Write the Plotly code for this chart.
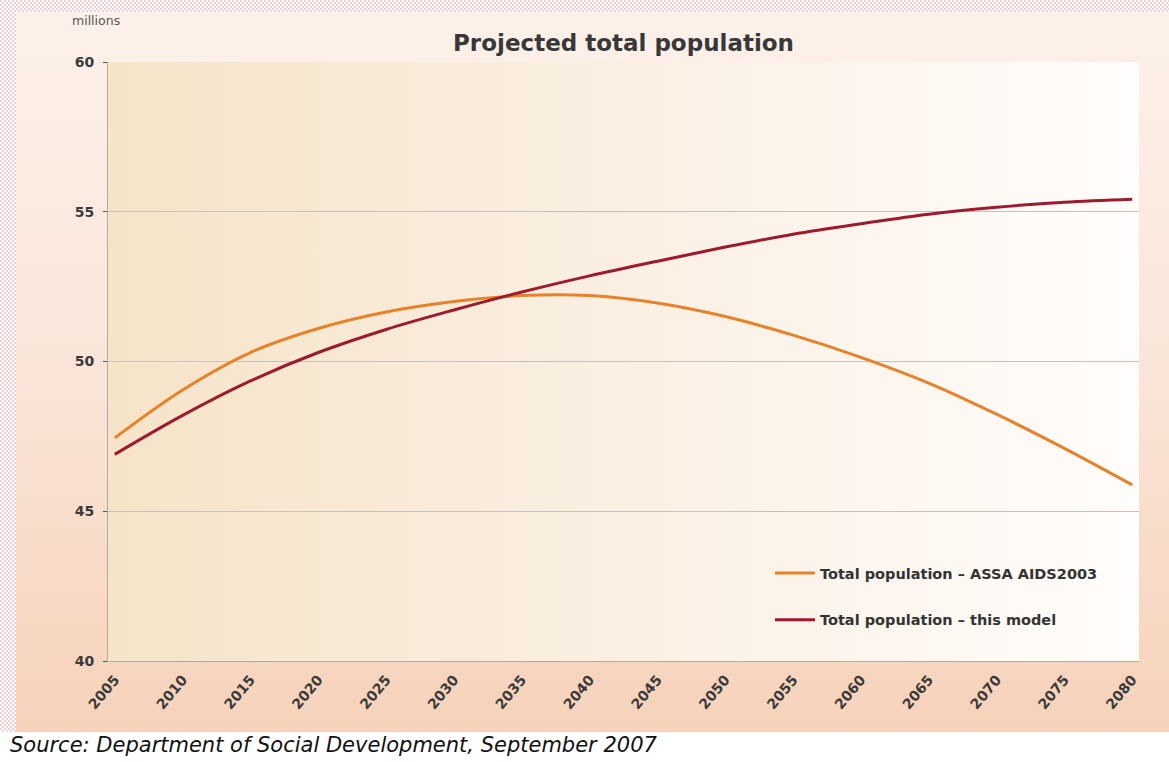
import base64
import plotly.graph_objects as go

# ---------------- data ----------------
years = [2005, 2010, 2015, 2020, 2025, 2030, 2035, 2040, 2045, 2050,
         2055, 2060, 2065, 2070, 2075, 2080]
assa_aids2003 = [47.45, 49.05, 50.3, 51.1, 51.65, 52.0, 52.2, 52.2, 51.95, 51.5,
                 50.88, 50.14, 49.28, 48.24, 47.1, 45.88]
this_model = [46.9, 48.2, 49.35, 50.3, 51.07, 51.72, 52.32, 52.86, 53.35, 53.82,
              54.25, 54.6, 54.92, 55.15, 55.32, 55.42]
series_names = ["Total population \u2013 ASSA AIDS2003", "Total population \u2013 this model"]
x_ticks = list(range(2005, 2081, 5))
y_ticks = [40, 45, 50, 55, 60]

W, H = 1169, 762
ML, MR, MT, MB = 108, 30, 62, 101
PW, PH = W - ML - MR, H - MT - MB

# ---------------- background (SVG image) ----------------
svg = f'''<svg xmlns="http://www.w3.org/2000/svg" width="{W}" height="{H}" viewBox="0 0 {W} {H}">
<defs>
<pattern id="chk" width="4" height="4" patternUnits="userSpaceOnUse">
<rect width="4" height="4" fill="#ffffff"/>
<rect width="2" height="2" fill="#efcfd3"/>
<rect x="2" y="2" width="2" height="2" fill="#efcfd3"/>
</pattern>
<linearGradient id="frame" x1="0" y1="0" x2="0" y2="1">
<stop offset="0" stop-color="#fdf1ea"/>
<stop offset="0.5" stop-color="#fae5d8"/>
<stop offset="1" stop-color="#f6d2ba"/>
</linearGradient>
<linearGradient id="plot" x1="0" y1="0" x2="1" y2="0">
<stop offset="0" stop-color="#f6e4c8"/>
<stop offset="0.45" stop-color="#faeee0"/>
<stop offset="1" stop-color="#fffdfb"/>
</linearGradient>
</defs>
<rect x="0" y="0" width="{W}" height="{H}" fill="#ffffff"/>
<rect x="0" y="0" width="{W}" height="12" fill="url(#chk)"/>
<rect x="0" y="0" width="16" height="732" fill="url(#chk)"/>
<rect x="16" y="12" width="{W-16}" height="720" fill="url(#frame)"/>
<rect x="{ML}" y="{MT}" width="{PW}" height="{PH}" fill="url(#plot)"/>
</svg>'''
svg_uri = "data:image/svg+xml;base64," + base64.b64encode(svg.encode()).decode()

fig = go.Figure()

fig.add_trace(go.Scatter(
    x=years, y=assa_aids2003, mode="lines", name=series_names[0],
    line=dict(color="#e8822a", width=3, shape="spline", smoothing=1.0),
    legendgroup="a",
))
fig.add_trace(go.Scatter(
    x=years, y=this_model, mode="lines", name=series_names[1],
    line=dict(color="#9e1a2e", width=3, shape="spline", smoothing=1.0),
    legendgroup="b",
))

fig.add_layout_image(dict(
    source=svg_uri, xref="paper", yref="paper",
    x=-ML / PW, y=1 + MT / PH, sizex=W / PW, sizey=H / PH,
    xanchor="left", yanchor="top", sizing="stretch", layer="below",
))

x_tick_font = dict(family="DejaVu Sans", size=14, color="#3a3a3a", weight="bold")
y_tick_font = dict(family="DejaVu Sans", size=14, color="#3a3a3a", weight="bold")

fig.update_layout(
    width=W, height=H,
    margin=dict(l=ML, r=MR, t=MT, b=MB),
    paper_bgcolor="#ffffff",
    plot_bgcolor="rgba(0,0,0,0)",
    title=dict(
        text="Projected total population",
        font=dict(family="DejaVu Sans", size=23, color="#383838", weight="bold"),
        x=0.5, xref="paper", xanchor="center",
        y=1 - 43 / H, yref="container", yanchor="middle",
    ),
    xaxis=dict(
        range=[2004.5, 2080.5], tickvals=x_ticks, ticktext=[str(t) for t in x_ticks],
        tickangle=-50, tickfont=x_tick_font, showgrid=False, zeroline=False,
        showline=True, linecolor="#b3aaa2", linewidth=1, ticks="", ticklen=0,
        ticklabelstandoff=4,
    ),
    yaxis=dict(
        range=[40, 60], tickvals=y_ticks, tickfont=y_tick_font,
        showgrid=True, gridcolor="#c9c1b9", gridwidth=1, zeroline=False,
        showline=True, linecolor="#b3aaa2", linewidth=1,
        ticks="outside", ticklen=4, tickcolor="#555555", ticklabelstandoff=6,
    ),
    showlegend=True,
    legend=dict(
        x=(770 - ML) / PW, y=(H - MB - 557) / PH, xanchor="left", yanchor="top",
        bgcolor="rgba(0,0,0,0)", tracegroupgap=25, itemwidth=40,
        font=dict(family="DejaVu Sans", size=14.5, color="#333333", weight="bold"),
    ),
    annotations=[
        dict(text="millions", xref="paper", yref="paper",
             x=(70 - ML) / PW, y=(H - MB - 20) / PH, xanchor="left", yanchor="middle",
             showarrow=False, font=dict(family="DejaVu Sans", size=12.5, color="#555555")),
        dict(text="<i>Source: Department of Social Development, September 2007</i>",
             xref="paper", yref="paper",
             x=(8 - ML) / PW, y=(H - MB - 745) / PH, xanchor="left", yanchor="middle",
             showarrow=False, font=dict(family="DejaVu Sans", size=21, color="#111111")),
    ],
)

fig.write_html("out.html")
